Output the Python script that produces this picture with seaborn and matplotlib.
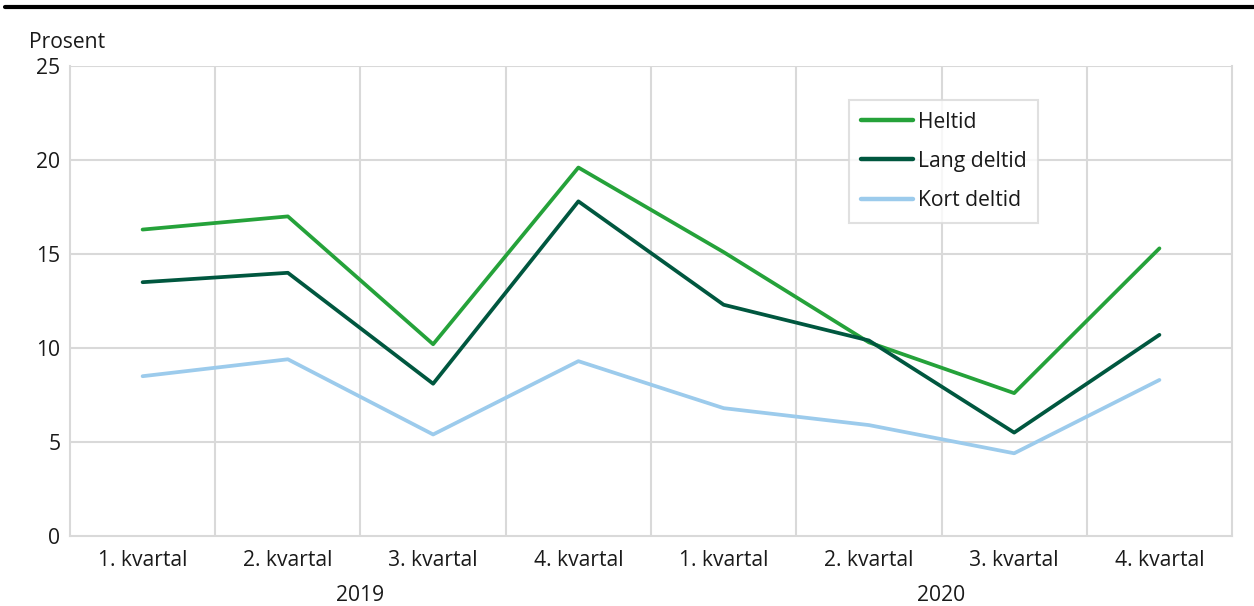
import matplotlib
matplotlib.use("Agg")
import matplotlib.pyplot as plt
from matplotlib.lines import Line2D
import seaborn as sns
import pandas as pd

quarters = ["1. kvartal", "2. kvartal", "3. kvartal", "4. kvartal",
            "1. kvartal", "2. kvartal", "3. kvartal", "4. kvartal"]
years = ["2019", "2020"]
heltid = [16.3, 17.0, 10.2, 19.6, 15.1, 10.3, 7.6, 15.3]
lang_deltid = [13.5, 14.0, 8.1, 17.8, 12.3, 10.4, 5.5, 10.7]
kort_deltid = [8.5, 9.4, 5.4, 9.3, 6.8, 5.9, 4.4, 8.3]

series_names = ["Heltid", "Lang deltid", "Kort deltid"]
colors = ["#25a23a", "#00573f", "#9ccbec"]

rows = []
for name, vals in zip(series_names, [heltid, lang_deltid, kort_deltid]):
    for i, v in enumerate(vals):
        rows.append({"pos": i, "verdi": v, "serie": name})
df = pd.DataFrame(rows)

sns.set_theme(style="white")
plt.rcParams["font.family"] = ["Open Sans", "DejaVu Sans"]

FS = 15.2
fig = plt.figure(figsize=(12.54, 6.06), dpi=100)
ax = fig.add_axes([0.0558, 0.1155, 0.9267, 0.7756])

grid_c = "#d9d9d9"
sns.lineplot(data=df, x="pos", y="verdi", hue="serie", hue_order=series_names,
             palette=colors, linewidth=2.7, ax=ax, legend=False, zorder=3)

ax.set_xlim(-0.5, 7.5)
ax.set_ylim(0, 25)
ax.set_yticks([0, 5, 10, 15, 20, 25])
ax.set_xticks(range(8))
ax.set_xticklabels(quarters)
for b in [0.5 + k for k in range(7)]:
    ax.axvline(b, color=grid_c, lw=1.5, zorder=1)
for yv in [5, 10, 15, 20, 25]:
    ax.axhline(yv, color=grid_c, lw=1.5, zorder=1)
for s in ax.spines.values():
    s.set_color(grid_c)
    s.set_linewidth(1.5)
ax.spines["top"].set_visible(False)

ax.tick_params(axis="both", length=0, labelsize=FS, colors="#1a1a1a")
ax.tick_params(axis="x", pad=10)
ax.tick_params(axis="y", pad=7)
ax.set_xlabel("")
ax.set_ylabel("")

ax.text(1.5, -0.126, years[0], transform=ax.get_xaxis_transform(),
        ha="center", va="center", fontsize=FS, color="#1a1a1a")
ax.text(5.5, -0.126, years[1], transform=ax.get_xaxis_transform(),
        ha="center", va="center", fontsize=FS, color="#1a1a1a")
fig.text(0.0235, 0.93, "Prosent", fontsize=FS, color="#1a1a1a", va="center")

handles = [Line2D([0], [0], color=c, lw=3.2) for c in colors]
leg = ax.legend(handles, series_names, loc="upper left",
                bbox_to_anchor=(0.6704, 0.9277), frameon=True, fancybox=False,
                fontsize=FS, handlelength=2.5, handletextpad=0.22,
                labelspacing=0.86, borderpad=0.55, borderaxespad=0)
leg.get_frame().set_edgecolor(grid_c)
leg.get_frame().set_linewidth(1.5)
for t in leg.get_texts():
    t.set_color("#1a1a1a")

fig.add_artist(Line2D([0.004, 1.0], [0.989, 0.989], transform=fig.transFigure,
                      color="black", lw=3.0))

fig.savefig("out.png", dpi=100)
